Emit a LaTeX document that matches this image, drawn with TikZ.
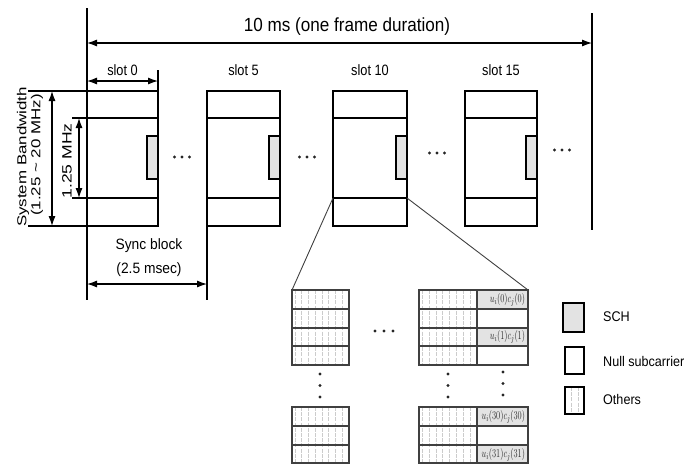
\documentclass[tikz,border=0pt]{standalone}
\usepackage{fontspec}
\setmainfont{Liberation Sans}
\usepackage{graphicx}
\usetikzlibrary{arrows.meta}

\tikzset{
  dimarrow/.style={{Latex[length=10pt,width=7pt]}-{Latex[length=10pt,width=7pt]}, line width=1.1pt},
  frameline/.style={draw=black, line width=1.1pt},
  schbox/.style={fill=gray!22, draw=black, line width=1.1pt},
  gridline/.style={draw=black!75, line width=1.8pt},
  hatchline/.style={draw=gray!40, line width=0.6pt, dash pattern=on 4pt off 1.2pt},
  zoomline/.style={draw=black!75, line width=0.9pt},
  slotlabel/.style={font=\fontsize{15}{17}\selectfont, inner sep=0pt, xscale=0.85},
  celllabel/.style={font=\fontsize{13}{15}\selectfont, anchor=east, inner sep=0.5pt, text=black!85, xscale=0.7},
  legendlabel/.style={font=\fontsize{14}{16}\selectfont, anchor=west, inner sep=0pt, xscale=0.9},
  dotmark/.style={fill=black!85},
}

\begin{document}
\begin{tikzpicture}[x=1pt,y=-1pt]
	\useasboundingbox (0,0) rectangle (700,464);
	\clip (0,0) rectangle (700,464);
	
	% Rahmengrenzen
	\draw[frameline] (87,8) -- (87,300);
	\draw[frameline] (592,13) -- (592,230);
	\draw[dimarrow] (87,43) -- (592,43);
	\node[font=\fontsize{19}{22}\selectfont, inner sep=0pt, xscale=0.9] (framelabel) at (347,27) {10 ms (one frame duration)};
	
	% Slots
	\foreach \x/\w/\n in {87/71/0, 207/73/5, 333/74/10, 465/72/15} {
		\draw[frameline] (\x,91) rectangle ++(\w,135);
		\draw[frameline] (\x,118) -- ++(\w,0);
		\draw[frameline] (\x,198) -- ++(\w,0);
		\draw[schbox] (\x+\w-11,136) rectangle (\x+\w,179);
		\node[slotlabel] (slot\n) at (\x+\w/2,70) {slot \n};
	}
	
	% Slotbreite
	\draw[frameline] (158,70) -- (158,91);
	\draw[dimarrow] (87,81) -- (158,81);
	
	% Bandbreiten links
	\draw[frameline] (28,91) -- (87,91);
	\draw[frameline] (28,226) -- (87,226);
	\draw[dimarrow] (52,91) -- (52,226);
	\draw[frameline] (72,118) -- (87,118);
	\draw[frameline] (72,198) -- (87,198);
	\draw[dimarrow] (79,118) -- (79,198);
	\node[rotate=90, inner sep=0pt] (sysbw) at (23,157) {\scalebox{1.3}[1]{\fontsize{13}{15}\selectfont System Bandwidth}};
	\node[rotate=90, inner sep=0pt] (sysrange) at (37,155) {\scalebox{1.3}[1]{\fontsize{13}{15}\selectfont (1.25 \textasciitilde\ 20 MHz)}};
	\node[rotate=90, inner sep=0pt] (subbw) at (67,161) {\scalebox{1.3}[1]{\fontsize{13.5}{15}\selectfont 1.25 MHz}};
	
	% Sync block
	\draw[frameline] (207,226) -- (207,300);
	\draw[dimarrow] (87,284) -- (207,284);
	\node[font=\fontsize{15}{17}\selectfont, inner sep=0pt, xscale=0.92] (syncblock) at (149,246) {Sync block};
	\node[font=\fontsize{15}{17}\selectfont, inner sep=0pt, xscale=0.92] (syncdur) at (149,270) {(2.5 msec)};
	
	% Vergroesserung von slot 10
	\draw[zoomline] (333,198) -- (292,290);
	\draw[zoomline] (407,198) -- (528,290);
	
	% Schraffur (Others)
	\foreach \y/\h in {290/75, 407/57} {
		\foreach \k in {0,...,7} {
			\draw[hatchline] (295+\k*6.7,\y) -- ++(0,\h);
			\draw[hatchline] (422+\k*6.9,\y) -- ++(0,\h);
		}
	}
	
	% SCH-Zellen
	\fill[gray!22] (477,290) rectangle (528,309);
	\fill[gray!22] (477,328) rectangle (528,346);
	\fill[gray!22] (477,407) rectangle (528,426);
	\fill[gray!22] (477,445) rectangle (528,464);
	
	% Gitter oben
	\foreach \xa/\xb in {292/349, 419/528} {
		\draw[gridline] (\xa,290) rectangle (\xb,365);
		\foreach \y in {309,328,346}
			\draw[gridline] (\xa,\y) -- (\xb,\y);
	}
	\draw[gridline] (477,290) -- (477,365);
	
	% Gitter unten
	\foreach \xa/\xb in {292/349, 419/528} {
		\draw[gridline] (\xa,407) rectangle (\xb,463);
		\foreach \y in {426,445}
			\draw[gridline] (\xa,\y) -- (\xb,\y);
	}
	\draw[gridline] (477,407) -- (477,463);
	
	\node[celllabel] (sch0) at (525.5,299.5) {$u_i(0)c_j(0)$};
	\node[celllabel] (sch1) at (525.5,337) {$u_i(1)c_j(1)$};
	\node[celllabel] (sch30) at (525.5,416.5) {$u_i(30)c_j(30)$};
	\node[celllabel] (sch31) at (525.5,454.5) {$u_i(31)c_j(31)$};
	
	% Punkte
	\foreach \cx/\cy in {182/157, 307/157, 437/153, 562/150} {
		\foreach \d in {-7.5,0,7.5}
			\fill[dotmark] (\cx+\d,\cy) circle (1.6);
	}
	\foreach \d in {-9,0,9}
		\fill[dotmark] (384+\d,331) circle (1.6);
	\foreach \cx/\cy in {320/374, 448/374, 503/372} {
		\foreach \d in {0,11.5,23}
			\fill[dotmark] (\cx,\cy+\d) circle (1.6);
	}
	
	% Legende
	\draw[schbox, line width=1.5pt] (563,303) rectangle (584,332);
	\draw[frameline, line width=1.3pt] (565,347) rectangle (584,374);
	\draw[hatchline] (571,387) -- (571,414);
	\draw[hatchline] (578,387) -- (578,414);
	\draw[frameline, line width=1.3pt] (565,387) rectangle (584,414);
	\node[legendlabel] (legsch) at (603,317) {SCH};
	\node[legendlabel] (legnull) at (603,361) {Null subcarrier};
	\node[legendlabel] (legothers) at (603,399) {Others};
	
\end{tikzpicture}
\end{document}
